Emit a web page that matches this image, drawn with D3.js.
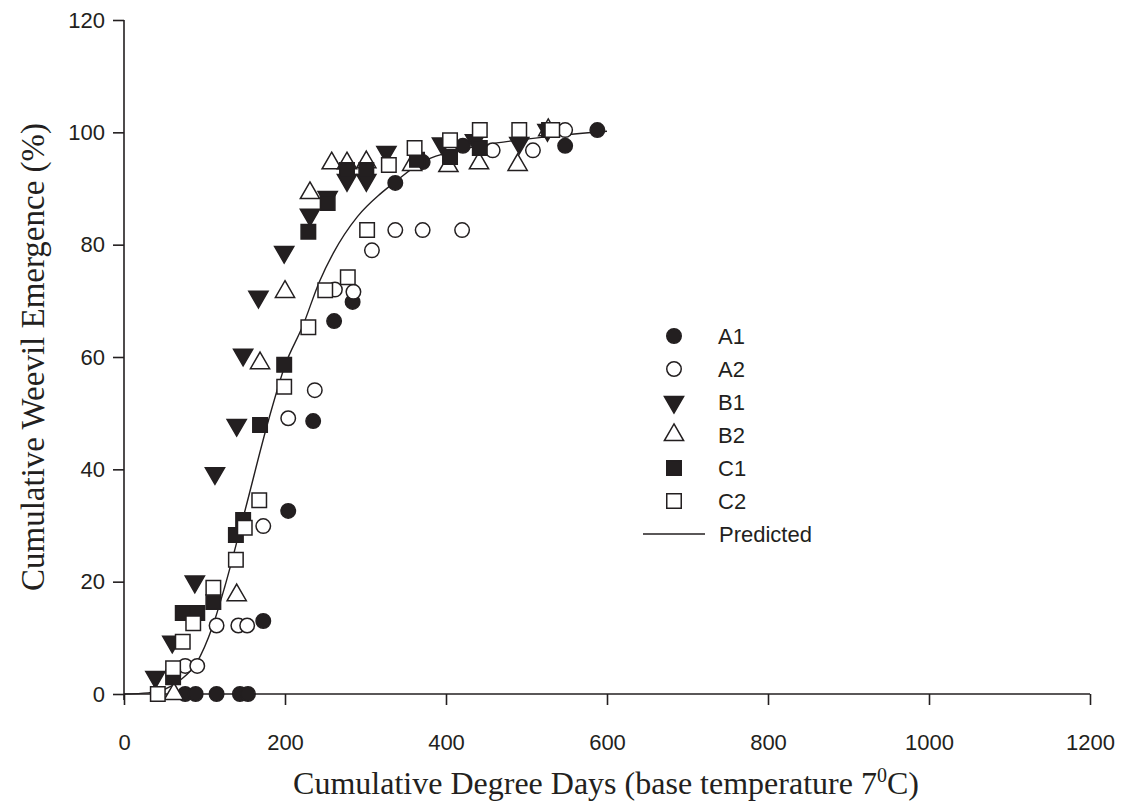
<!DOCTYPE html>
<html><head><meta charset="utf-8">
<script src="https://cdn.jsdelivr.net/npm/d3@7"></script>
<style>body{margin:0;background:#fff}svg{display:block}</style>
</head><body>
<svg id="c" width="1126" height="801"></svg>
<script>
// ---- data ----
const seriesNames = ["A1","A2","B1","B2","C1","C2"];
const A1 = [[76,0],[89,0],[115,0],[144,0],[154,0],[173,13],[204,32.6],[235,48.6],[261,66.4],[284,69.8],[337,91],[371,94.7],[421,97.6],[548,97.6],[588,100.4]];
const A2 = [[76,5],[91,5],[115,12.2],[142,12.2],[153,12.2],[173,29.9],[204,49.1],[237,54.1],[262,72],[285,71.6],[308,79],[337,82.6],[371,82.6],[420,82.6],[458,96.8],[508,96.8],[548,100.4]];
const B1 = [[39,3],[60,9.3],[88,20],[113,39.3],[140,47.9],[148,60.4],[167,70.7],[199,78.7],[231,85.3],[253,88.5],[277,91.5],[301,91.5],[326,96.5],[395,98],[436,98.6],[491,98.1],[526,100.4]];
const B2 = [[62,0],[140,17.6],[169,58.9],[200,71.6],[231,89.2],[258,94.5],[277,94.5],[301,94.7],[358,94.2],[403,94],[441,94.5],[489,94.2],[527,100.4]];
const C1 = [[61,3],[73,14.4],[91,14.4],[111,16.4],[139,28.3],[148,31],[169,47.9],[199,58.6],[229,82.3],[253,87.4],[277,93.3],[301,93.3],[364,95.1],[405,95.6],[442,97.2],[528,100.4]];
const C2 = [[42,0],[61,4.6],[73,9.3],[86,12.6],[111,18.9],[139,23.9],[150,29.6],[168,34.5],[199,54.7],[229,65.3],[250,71.9],[278,74.2],[302,82.6],[329,94.2],[361,97.2],[405,98.6],[442,100.4],[491,100.4],[532,100.4]];
const predicted = [[0,0],[30,0.2],[50,0.8],[70,2.5],[90,5.5],[110,12],[125,19],[150,32.5],[180,49],[200,58.5],[222,65.5],[243,73.5],[260,78.5],[290,85],[318,89],[337,91.2],[371,94.8],[400,96.3],[450,97.8],[525,99.2],[600,100.2]];
const xTicks = [0,200,400,600,800,1000,1200];
const yTicks = [0,20,40,60,80,100,120];

const INK = "#231f20";
const SANS = "Liberation Sans, Arial, sans-serif";
const SERIF = "Liberation Serif, Times New Roman, serif";
const svg = d3.select("#c");
const x = d3.scaleLinear().domain([0,1200]).range([124,1090]);
const y = d3.scaleLinear().domain([0,120]).range([694,20]);

// axes
const gx = svg.append("g").attr("transform","translate(0,694)")
  .call(d3.axisBottom(x).tickValues(xTicks).tickFormat(d3.format("d")).tickSize(11).tickPadding(45).tickSizeOuter(0));
const gy = svg.append("g").attr("transform","translate(124,0)")
  .call(d3.axisLeft(y).tickValues(yTicks).tickFormat(d3.format("d")).tickSize(11).tickPadding(8).tickSizeOuter(0));
[gx,gy].forEach(g=>{
  g.select(".domain").attr("stroke",INK).attr("stroke-width",1.6);
  g.selectAll(".tick line").attr("stroke",INK).attr("stroke-width",1.6);
  g.selectAll(".tick text").attr("fill",INK).attr("font-family",SANS).attr("font-size",22);
});
gx.selectAll(".tick text").attr("dy","0");
gx.select(".domain").attr("d","M124,0H1090");
gy.select(".domain").attr("d","M0,20V700");

// predicted line
svg.append("path").datum(predicted)
  .attr("fill","none").attr("stroke",INK).attr("stroke-width",1.4)
  .attr("d", d3.line().x(d=>x(d[0])).y(d=>y(d[1])).curve(d3.curveMonotoneX));

// symbols
const symDefs = {
  A1:{type:d3.symbolCircle, fill:true},
  A2:{type:d3.symbolCircle, fill:false},
  B1:{type:d3.symbolTriangle, fill:true, rot:180},
  B2:{type:d3.symbolTriangle, fill:false},
  C1:{type:d3.symbolSquare, fill:true},
  C2:{type:d3.symbolSquare, fill:false}
};
const sizes = {A:165, B:160, C:210};
function drawSym(g, name, cx, cy){
  const d = symDefs[name];
  g.append("path")
    .attr("d", d3.symbol().type(d.type).size(sizes[name[0]])())
    .attr("transform", `translate(${cx},${cy})` + (d.rot?` rotate(${d.rot})`:""))
    .attr("fill", d.fill?INK:"#fff")
    .attr("stroke", INK).attr("stroke-width", 1.5);
}
const data = {A1,A2,B1,B2,C1,C2};
const pts = svg.append("g");
seriesNames.forEach(n=>{
  data[n].forEach(p=>drawSym(pts, n, x(p[0]), y(p[1])));
});

// legend
const lg = svg.append("g");
const rowY = d3.scalePoint().domain([...seriesNames,"Predicted"]).range([336,534]);
seriesNames.forEach(n=>{
  drawSym(lg, n, 674, rowY(n));
  lg.append("text").attr("x",718).attr("y",rowY(n)).attr("dy","0.35em")
    .attr("font-family",SANS).attr("font-size",22).attr("fill",INK).text(n);
});
lg.append("line").attr("x1",643).attr("x2",705).attr("y1",rowY("Predicted")).attr("y2",rowY("Predicted"))
  .attr("stroke",INK).attr("stroke-width",1.4);
lg.append("text").attr("x",719).attr("y",rowY("Predicted")).attr("dy","0.35em")
  .attr("font-family",SANS).attr("font-size",22).attr("fill",INK).text("Predicted");

// axis titles
const xt = svg.append("text").attr("x",606).attr("y",794).attr("text-anchor","middle")
  .attr("font-family",SERIF).attr("font-size",32).attr("fill",INK);
xt.append("tspan").text("Cumulative Degree Days (base temperature 7");
xt.append("tspan").attr("dy",-12).attr("font-size",20).text("0");
xt.append("tspan").attr("dy",12).text("C)");

svg.append("text").attr("transform","translate(44,357) rotate(-90)").attr("text-anchor","middle")
  .attr("font-family",SERIF).attr("font-size",33).attr("fill",INK)
  .text("Cumulative Weevil Emergence (%)");
</script>
</body></html>
